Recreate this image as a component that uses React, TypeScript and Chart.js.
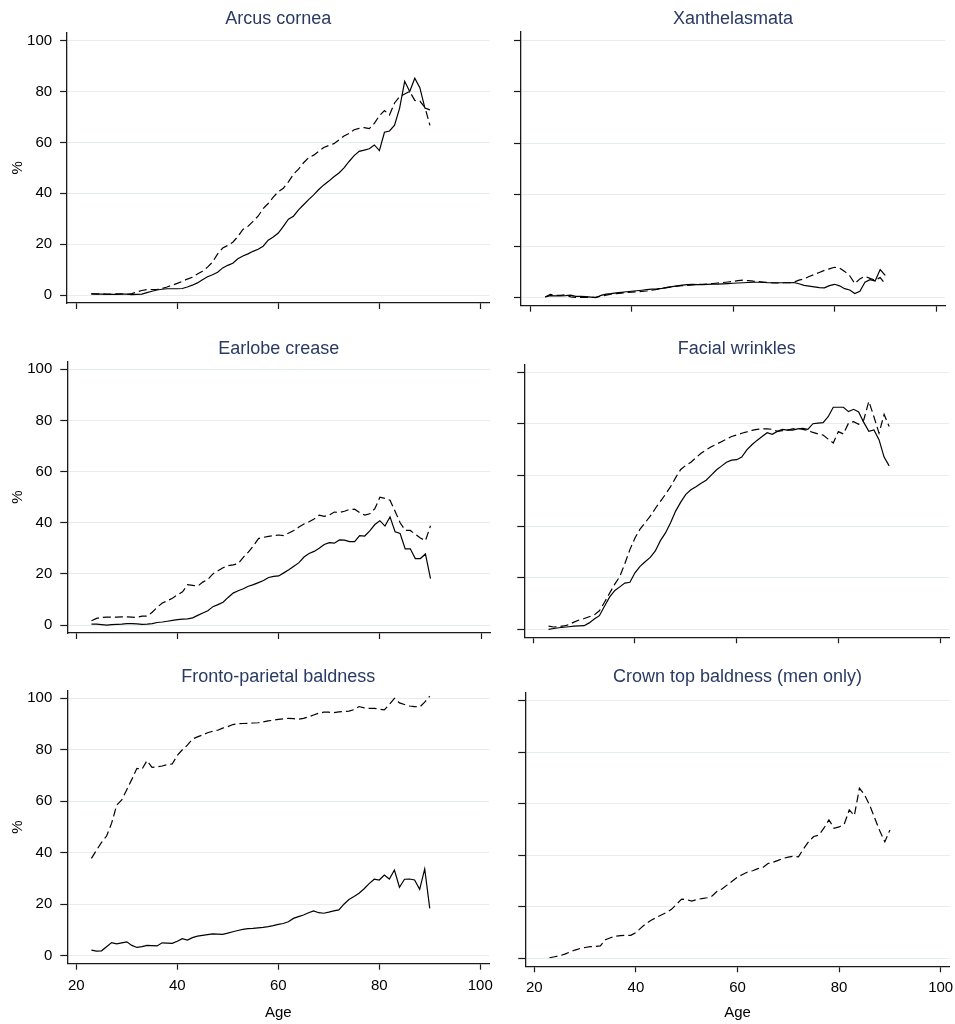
import React, { useEffect, useRef } from "react";
import { Chart, registerables } from "chart.js";

Chart.register(...registerables);

const AGES = [
  23, 24, 25, 26, 27, 28, 29, 30, 31, 32, 33, 34, 35, 36, 37, 38, 39, 40, 41, 42,
  43, 44, 45, 46, 47, 48, 49, 50, 51, 52, 53, 54, 55, 56, 57, 58, 59, 60, 61, 62,
  63, 64, 65, 66, 67, 68, 69, 70, 71, 72, 73, 74, 75, 76, 77, 78, 79, 80, 81, 82,
  83, 84, 85, 86, 87, 88, 89, 90,
];

const X_TICKS = [20, 40, 60, 80, 100];
const Y_TICKS = [0, 20, 40, 60, 80, 100];

const ARCUS_WOMEN = [
  0.5, 0.4, 0.4, 0.3, 0.3, 0.3, 0.4, 0.4, 0.2, 0.3,
  0.4, 1.0, 1.5, 2.0, 2.3, 2.5, 2.5, 2.5, 2.6, 3.2,
  3.9, 4.8, 6.0, 7.2, 8.0, 9.0, 10.7, 11.7, 12.5, 14.3,
  15.4, 16.2, 17.2, 18.0, 19.2, 21.6, 22.8, 24.4, 27.0, 29.8,
  31.0, 33.5, 35.5, 37.5, 39.4, 41.5, 43.3, 44.8, 46.5, 48.0,
  50.0, 52.5, 54.8, 56.5, 57.0, 57.5, 59.0, 56.8, 64.0, 64.5,
  66.8, 73.5, 84.0, 80.0, 85.2, 81.5, 73.5, 72.8,
];
const ARCUS_MEN = [
  0.5, 0.5, 0.5, 0.4, 0.4, 0.5, 0.5, 0.3, 0.6, 1.2,
  1.8, 2.2, 2.2, 2.2, 2.6, 3.2, 3.9, 4.6, 5.4, 6.3,
  7.0, 8.3, 9.4, 11.0, 13.0, 16.2, 18.5, 19.5, 20.8, 23.0,
  25.8, 27.0, 29.0, 31.0, 34.0, 36.0, 38.5, 40.6, 42.0, 44.5,
  47.5, 49.5, 52.0, 54.0, 55.0, 56.5, 58.0, 58.8, 59.5, 61.0,
  62.5, 63.5, 65.0, 65.5, 65.8, 65.4, 67.5, 70.5, 72.5, 70.8,
  75.5, 78.0, 79.0, 80.0, 76.5, 76.2, 73.8, 66.7,
];

const XANTH_WOMEN = [
  0.3, 0.8, 0.7, 0.7, 0.8, 1.0, 0.5, 0.5, 0.4, 0.2,
  0.0, 0.9, 1.4, 1.6, 1.9, 2.1, 2.3, 2.5, 2.7, 2.9,
  3.1, 3.3, 3.4, 3.6, 3.9, 4.3, 4.6, 4.9, 5.1, 5.2,
  5.1, 5.1, 5.2, 5.3, 5.3, 5.4, 5.5, 5.6, 5.7, 5.8,
  5.9, 6.0, 6.0, 5.9, 5.8, 5.8, 5.8, 5.8, 5.8, 5.9,
  5.4, 4.8, 4.5, 4.2, 3.9, 3.8, 4.7, 5.2, 4.6, 3.5,
  3.0, 1.6, 2.5, 6.0, 7.0, 6.5, 10.9, 8.7,
];
const XANTH_MEN = [
  0.3, 1.3, 0.9, 0.9, 1.1, 0.3, 0.1, 0.1, 0.1, 0.1,
  0.2, 0.6, 1.0, 1.4, 1.6, 1.8, 2.0, 2.2, 2.3, 2.4,
  2.6, 2.9, 3.2, 3.6, 4.0, 4.2, 4.5, 4.7, 4.8, 5.0,
  5.1, 5.2, 5.3, 5.5, 5.7, 5.9, 6.1, 6.3, 6.6, 6.8,
  6.6, 6.4, 6.3, 6.1, 5.9, 5.7, 5.7, 5.8, 5.8, 6.0,
  6.8, 7.3, 8.2, 9.0, 9.8, 10.6, 11.2, 11.8, 11.5, 10.2,
  8.5, 5.5, 7.3, 8.3, 7.5, 6.8, 7.8, 5.3,
];

const EARLOBE_WOMEN = [
  0.4, 0.4, 0.2, 0.0, 0.2, 0.3, 0.4, 0.6, 0.6, 0.5,
  0.3, 0.4, 0.6, 1.0, 1.2, 1.5, 1.8, 2.1, 2.3, 2.4,
  2.8, 3.8, 4.7, 5.6, 7.2, 8.0, 8.9, 10.8, 12.5, 13.4,
  14.2, 15.2, 15.8, 16.6, 17.4, 18.6, 19.0, 19.2, 20.4, 21.6,
  23.0, 24.4, 26.6, 28.0, 28.8, 30.0, 31.5, 32.2, 32.0, 33.3,
  33.2, 32.6, 32.6, 35.0, 34.8, 36.8, 39.3, 40.8, 38.7, 42.3,
  36.5, 35.8, 29.8, 29.8, 26.0, 26.0, 27.8, 18.2,
];
const EARLOBE_MEN = [
  1.7, 2.6, 3.0, 3.1, 3.1, 3.1, 3.2, 3.2, 3.1, 3.0,
  3.5, 3.5, 5.0, 7.0, 8.6, 9.5, 10.5, 11.8, 13.0, 15.8,
  15.5, 15.2, 16.8, 17.8, 20.0, 21.2, 22.4, 23.2, 23.5, 24.0,
  26.5, 28.5, 31.0, 33.8, 34.3, 34.7, 35.0, 35.2, 35.0, 36.0,
  37.0, 38.3, 39.5, 40.4, 41.5, 43.0, 42.5, 43.0, 44.2, 44.0,
  44.5, 45.2, 45.3, 44.0, 43.0, 43.5, 45.5, 50.0, 49.5, 48.8,
  44.5, 40.0, 37.0, 37.0, 35.5, 34.0, 33.0, 38.8,
];

const FACIAL_WOMEN = [
  0.0, 0.3, 0.6, 0.8, 1.0, 1.2, 1.3, 1.4, 2.5, 4.0,
  5.3, 9.0, 12.5, 15.0, 16.5, 18.0, 18.3, 22.0, 24.5, 26.3,
  28.0, 30.5, 34.5, 37.5, 41.5, 46.0, 49.5, 52.5, 54.3, 55.5,
  56.8, 58.0, 60.0, 62.0, 63.5, 65.0, 65.8, 66.0, 67.0, 69.8,
  71.8, 73.5, 75.0, 76.5, 75.9, 77.0, 77.8, 77.5, 77.5, 78.0,
  78.2, 77.8, 80.0, 80.2, 80.4, 82.7, 86.4, 86.4, 86.4, 84.7,
  85.6, 84.6, 80.5, 77.0, 77.6, 73.8, 67.0, 63.6,
];
const FACIAL_MEN = [
  1.2, 0.9, 1.0, 1.3, 1.8, 2.8, 3.6, 4.2, 4.9, 5.6,
  7.2, 10.5, 14.0, 17.5, 20.5, 25.5, 31.0, 35.5, 39.0, 41.5,
  44.0, 47.0, 49.8, 52.5, 55.5, 59.0, 62.2, 63.8, 65.0, 66.8,
  68.5, 69.8, 71.0, 72.0, 73.0, 74.0, 75.0, 75.6, 76.3, 76.8,
  77.4, 77.8, 78.0, 78.0, 77.8, 77.0, 77.3, 77.5, 78.0, 78.2,
  77.8, 77.4, 76.6, 76.0, 75.6, 74.0, 72.5, 76.9, 76.0, 80.2,
  80.8, 79.8, 81.5, 88.7, 82.7, 76.3, 83.6, 78.9,
];

const FRONTO_WOMEN = [
  2.2, 1.8, 1.9, 3.5, 5.1, 4.6, 5.0, 5.4, 4.0, 3.2,
  3.5, 4.0, 3.9, 3.8, 5.0, 4.9, 4.8, 5.6, 6.6, 6.1,
  7.0, 7.6, 7.9, 8.2, 8.5, 8.4, 8.3, 8.8, 9.3, 9.8,
  10.2, 10.5, 10.6, 10.8, 11.0, 11.3, 11.7, 12.2, 12.5, 13.2,
  14.5, 15.2, 15.8, 16.7, 17.4, 16.7, 16.5, 16.9, 17.4, 17.8,
  20.0, 21.8, 23.0, 24.3, 26.0, 28.0, 29.7, 29.4, 31.3, 29.8,
  33.3, 26.6, 29.7, 29.8, 29.4, 25.8, 33.7, 18.4,
];
const FRONTO_MEN = [
  37.8, 41.0, 44.0, 46.5, 51.5, 58.5, 60.5, 64.5, 68.5, 72.8,
  72.4, 75.8, 73.2, 73.4, 73.7, 74.2, 74.5, 77.8, 80.0, 81.8,
  84.2, 85.0, 85.8, 86.6, 87.2, 87.6, 88.4, 89.0, 89.8, 90.1,
  90.2, 90.3, 90.4, 90.5, 90.8, 91.2, 91.5, 91.8, 92.0, 92.2,
  92.1, 91.9, 92.2, 92.8, 93.5, 94.2, 94.6, 94.6, 94.4, 94.7,
  94.9, 95.0, 95.6, 96.8, 96.3, 96.1, 96.1, 95.8, 95.5, 97.6,
  100.0, 98.2, 97.6, 97.0, 96.8, 96.6, 98.5, 100.8,
];

const CROWN_MEN = [
  0.2, 0.6, 1.0, 1.6, 2.4, 3.2, 3.8, 4.2, 4.5, 4.6,
  4.8, 7.2, 8.0, 8.6, 8.8, 8.9, 8.9, 10.0, 11.8, 13.5,
  14.8, 15.8, 16.8, 17.8, 19.0, 21.0, 23.0, 22.8, 22.2, 22.8,
  23.2, 23.5, 24.2, 26.0, 27.0, 28.5, 30.0, 31.5, 32.5, 33.5,
  34.0, 34.8, 35.3, 36.8, 37.3, 38.0, 38.8, 39.3, 39.6, 39.4,
  42.5, 45.3, 47.3, 47.8, 50.5, 53.7, 50.5, 51.0, 52.0, 57.6,
  55.4, 66.0, 63.5, 59.5, 54.5, 49.5, 45.2, 49.8,
];

const TITLES = [
  "Arcus cornea",
  "Xanthelasmata",
  "Earlobe crease",
  "Facial wrinkles",
  "Fronto-parietal baldness",
  "Crown top baldness (men only)",
];

const X_MIN = 18.22;
const X_MAX = 101.78;
const Y_MIN = -3.1;
const Y_MAX = 103.1;

const FONT = "'Liberation Sans', Arial, Helvetica, sans-serif";
const TITLE_COLOR = "#2a3a63";
const GRID_COLOR = "#e5edef";
const AXIS_COLOR = "#1a1a1a";

type PanelCfg = {
  title: string;
  women: number[] | null;
  men: number[] | null;
  cx: number; cy: number; cw: number; ch: number;
  x20: number; xs: number; y0: number; ys: number; ty: number;
  showY: boolean; showX: boolean;
};

const PANELS: PanelCfg[] = [
  { title: TITLES[0], women: ARCUS_WOMEN, men: ARCUS_MEN, cx: 0, cy: 0, cw: 500, ch: 320, x20: 76.1, xs: 5.055, y0: 298, ys: 2.573, ty: 19.5, showY: true, showX: false },
  { title: TITLES[1], women: XANTH_WOMEN, men: XANTH_MEN, cx: 480, cy: 0, cw: 500, ch: 320, x20: 530, xs: 5.075, y0: 297.7, ys: 2.577, ty: 19.5, showY: false, showX: false },
  { title: TITLES[2], women: EARLOBE_WOMEN, men: EARLOBE_MEN, cx: 0, cy: 325, cw: 500, ch: 325, x20: 76.3, xs: 5.06, y0: 626.7, ys: 2.574, ty: 348.7, showY: true, showX: false },
  { title: TITLES[3], women: FACIAL_WOMEN, men: FACIAL_MEN, cx: 480, cy: 325, cw: 500, ch: 325, x20: 533.3, xs: 5.084, y0: 629.3, ys: 2.57, ty: 348.7, showY: false, showX: false },
  { title: TITLES[4], women: FRONTO_WOMEN, men: FRONTO_MEN, cx: 0, cy: 655, cw: 500, ch: 369, x20: 76.3, xs: 5.06, y0: 955.7, ys: 2.574, ty: 676.7, showY: true, showX: true },
  { title: TITLES[5], women: null, men: CROWN_MEN, cx: 480, cy: 655, cw: 500, ch: 369, x20: 534.3, xs: 5.08, y0: 958.3, ys: 2.576, ty: 676.7, showY: false, showX: true },
];

function Panel({ cfg }: { cfg: PanelCfg }) {
  const ref = useRef<HTMLCanvasElement | null>(null);

  useEffect(() => {
    const { cx, cy, cw, ch, x20, xs, y0, ys, ty, showX, showY } = cfg;
    const L = x20 + (X_MIN - 20) * xs;
    const R = x20 + (X_MAX - 20) * xs;
    const T = y0 - Y_MAX * ys;
    const B = y0 - Y_MIN * ys;
    const titleLH = 18 * 1.2;

    const datasets: any[] = [];
    if (cfg.women) {
      datasets.push({
        label: "Women",
        data: AGES.map((a, i) => ({ x: a, y: cfg.women![i] })),
        borderColor: "#000",
        borderWidth: 1.2,
        pointRadius: 0,
        tension: 0,
        fill: false,
      });
    }
    if (cfg.men) {
      datasets.push({
        label: "Men",
        data: AGES.map((a, i) => ({ x: a, y: cfg.men![i] })),
        borderColor: "#000",
        borderWidth: 1.2,
        borderDash: [8, 4],
        pointRadius: 0,
        tension: 0,
        fill: false,
      });
    }

    const tickFont = { family: FONT, size: 15 };

    const chart = new Chart(ref.current as HTMLCanvasElement, {
      type: "line",
      data: { datasets },
      options: {
        animation: false,
        responsive: false,
        maintainAspectRatio: false,
        devicePixelRatio: 1,
        layout: { padding: { left: 0, top: 0, right: cx + cw - R, bottom: 0 } },
        plugins: {
          legend: { display: false },
          tooltip: { enabled: false },
          title: {
            display: true,
            text: cfg.title,
            fullSize: false,
            color: TITLE_COLOR,
            font: { family: FONT, size: 18, weight: "normal", lineHeight: 1.2 },
            padding: { top: ty - cy - titleLH / 2, bottom: T - ty - titleLH / 2 },
          },
        },
        scales: {
          x: {
            type: "linear",
            min: X_MIN,
            max: X_MAX,
            afterBuildTicks: (s: any) => {
              s.ticks = X_TICKS.map((v) => ({ value: v }));
            },
            afterFit: (s: any) => {
              s.height = cy + ch - B;
            },
            grid: {
              drawOnChartArea: false,
              drawTicks: true,
              tickLength: 6,
              tickColor: AXIS_COLOR,
              tickWidth: 1.2,
            },
            border: { display: true, color: AXIS_COLOR, width: 1.3 },
            ticks: {
              display: showX,
              color: "#000",
              font: tickFont,
              padding: 7,
              maxRotation: 0,
              autoSkip: false,
            },
            title: {
              display: showX,
              text: "Age",
              color: "#000",
              font: { family: FONT, size: 15 },
              padding: { top: 0, bottom: 2.5 },
            },
          },
          y: {
            type: "linear",
            min: Y_MIN,
            max: Y_MAX,
            afterBuildTicks: (s: any) => {
              s.ticks = Y_TICKS.map((v) => ({ value: v }));
            },
            afterFit: (s: any) => {
              s.width = L - cx;
            },
            grid: {
              drawOnChartArea: true,
              color: GRID_COLOR,
              lineWidth: 1,
              drawTicks: true,
              tickLength: 7,
              tickColor: AXIS_COLOR,
              tickWidth: 1.2,
            },
            border: { display: true, color: AXIS_COLOR, width: 1.3 },
            ticks: {
              display: showY,
              color: "#000",
              font: tickFont,
              padding: 8,
              autoSkip: false,
            },
            title: {
              display: showY,
              text: "%",
              color: "#000",
              font: { family: FONT, size: 15 },
              padding: { top: 8.5, bottom: 0 },
            },
          },
        },
      } as any,
    });

    return () => {
      chart.destroy();
    };
  }, [cfg]);

  return (
    <canvas
      ref={ref}
      width={cfg.cw}
      height={cfg.ch}
      style={{
        position: "absolute",
        left: cfg.cx,
        top: cfg.cy,
        width: cfg.cw,
        height: cfg.ch,
      }}
    />
  );
}

export default function App() {
  return (
    <div
      style={{
        position: "absolute",
        left: 0,
        top: 0,
        width: 955,
        height: 1024,
        overflow: "hidden",
        background: "#fff",
      }}
    >
      {PANELS.map((p) => (
        <Panel key={p.title} cfg={p} />
      ))}
    </div>
  );
}
